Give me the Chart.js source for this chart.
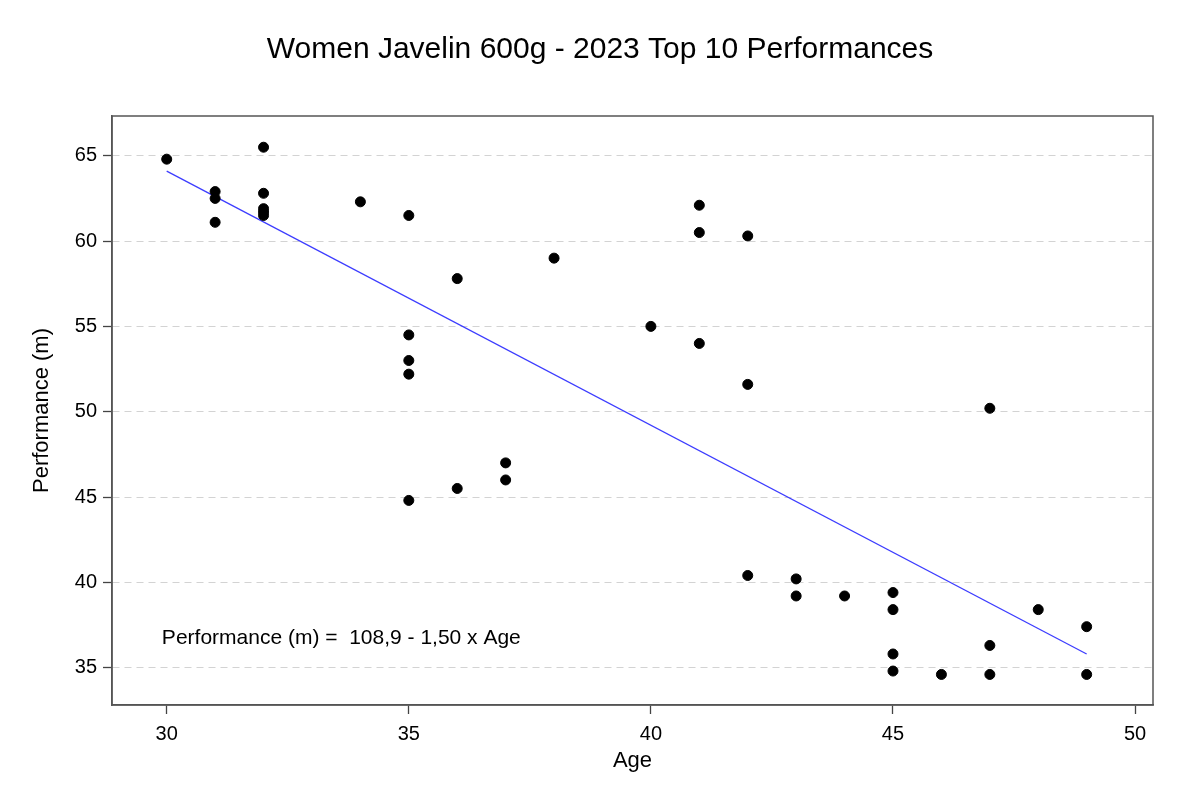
<!DOCTYPE html>
<html>
<head>
<meta charset="utf-8">
<script src="https://cdn.jsdelivr.net/npm/chart.js@4/dist/chart.umd.min.js"></script>
<style>
  html, body { margin: 0; padding: 0; background: #fff; }
  #wrap { width: 1200px; height: 798px; }
</style>
</head>
<body>
<div id="wrap"><canvas id="javelinChart" width="1200" height="798"></canvas></div>
<script>
// data
const ages = [30, 31, 31, 31, 32, 32, 32, 32, 32, 34, 35, 35, 35, 35, 35, 36, 36, 37, 37, 38, 40,
  41, 41, 41, 42, 42, 42, 43, 43, 44, 45, 45, 45, 45, 46, 47, 47, 47, 48, 49, 49];
const performances = [64.8, 62.9, 62.5, 61.1, 65.5, 62.8, 61.9, 61.7, 61.5, 62.3, 61.5, 54.5, 53.0, 52.2, 44.8, 57.8, 45.5, 47.0, 46.0, 59.0, 55.0,
  62.1, 60.5, 54.0, 60.3, 51.6, 40.4, 40.2, 39.2, 39.2, 39.4, 38.4, 35.8, 34.8, 34.6, 50.2, 36.3, 34.6, 38.4, 37.4, 34.6];

// fitted line end points
const fitAges = [30, 49];
const fitPerformances = [64.1, 35.8];

const xTicks = [30, 35, 40, 45, 50];
const yTicks = [35, 40, 45, 50, 55, 60, 65];

const equationText = "Performance (m) =  108,9 - 1,50 x Age";
const equationPos = { x: 29.9, y: 36.75 };

const FONT = "'Liberation Sans', Arial, Helvetica, sans-serif";

// box round the plot area + the equation label
const boxPlugin = {
  id: "boxPlugin",
  afterDatasetsDraw(chart) {
    const ctx = chart.ctx;
    const a = chart.chartArea;
    const xs = chart.scales.x;
    const ys = chart.scales.y;
    ctx.save();
    ctx.font = "21px " + FONT;
    ctx.fillStyle = "#000";
    ctx.textAlign = "left";
    ctx.textBaseline = "middle";
    ctx.fillText(equationText, xs.getPixelForValue(equationPos.x), ys.getPixelForValue(equationPos.y));
    ctx.strokeStyle = "#555";
    ctx.lineWidth = 1.5;
    ctx.strokeRect(a.left, a.top, a.right - a.left, a.bottom - a.top);
    ctx.restore();
  },
};

const ctx = document.getElementById("javelinChart").getContext("2d");

const javelinChart = new Chart(ctx, {
  type: "scatter",
  data: {
    datasets: [
      {
        label: "Performance",
        data: ages.map((a, i) => ({ x: a, y: performances[i] })),
        backgroundColor: "#000",
        borderColor: "#000",
        pointRadius: 5,
        order: 1,
      },
      {
        label: "Fit",
        data: fitAges.map((a, i) => ({ x: a, y: fitPerformances[i] })),
        showLine: true,
        borderColor: "rgba(50,50,255,0.95)",
        borderWidth: 1.3,
        pointRadius: 0,
        order: 2,
      },
    ],
  },
  options: {
    responsive: false,
    animation: false,
    devicePixelRatio: 1,
    layout: { padding: 0 },
    plugins: {
      legend: { display: false },
      tooltip: { enabled: false },
      title: {
        display: true,
        text: "Women Javelin 600g - 2023 Top 10 Performances",
        color: "#000",
        font: { family: FONT, size: 30, weight: "normal" },
        padding: { top: 32, bottom: 48 },
      },
    },
    scales: {
      x: {
        type: "linear",
        min: 28.87,
        max: 50.37,
        afterBuildTicks: (scale) => { scale.ticks = xTicks.map((v) => ({ value: v })); },
        afterFit: (scale) => { scale.height = 93; },
        ticks: { color: "#000", font: { family: FONT, size: 20 }, padding: 8 },
        grid: { drawOnChartArea: false, tickLength: 9, tickColor: "#444", tickWidth: 1.3 },
        border: { display: true, color: "#555", width: 1.5 },
        title: {
          display: true,
          text: "Age",
          color: "#000",
          font: { family: FONT, size: 22 },
          padding: { top: 0, bottom: 24 },
        },
      },
      y: {
        type: "linear",
        min: 32.81,
        max: 67.33,
        afterBuildTicks: (scale) => { scale.ticks = yTicks.map((v) => ({ value: v })); },
        afterFit: (scale) => { scale.width = 112; },
        ticks: { color: "#000", font: { family: FONT, size: 20 }, padding: 6 },
        grid: { color: "#d3d3d3", lineWidth: 1, tickLength: 9, tickColor: "#444", tickWidth: 1.3 },
        border: { display: true, color: "#555", width: 1.5, dash: [7, 5] },
        title: {
          display: true,
          text: "Performance (m)",
          color: "#000",
          font: { family: FONT, size: 22 },
          padding: { top: 29, bottom: 0 },
        },
      },
      // empty right axis, only keeps the right margin so the title stays centred
      yRight: {
        type: "linear",
        position: "right",
        min: 32.81,
        max: 67.33,
        afterFit: (scale) => { scale.width = 47; },
        ticks: { display: false },
        grid: { display: false, drawTicks: false },
        border: { display: false },
      },
    },
  },
  plugins: [boxPlugin],
});
</script>
</body>
</html>
